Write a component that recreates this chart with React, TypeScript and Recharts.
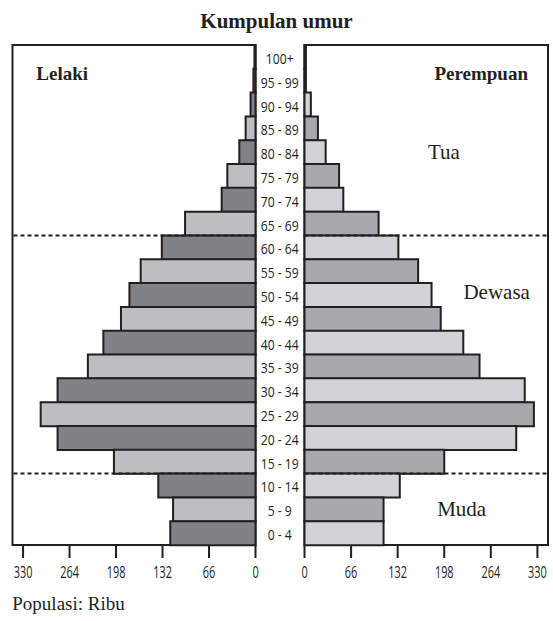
import React from 'react';
import { BarChart, Bar, XAxis, YAxis, Cell, ReferenceLine, ReferenceArea } from 'recharts';

const ages = [
  '100+', '95 - 99', '90 - 94', '85 - 89', '80 - 84', '75 - 79', '70 - 74',
  '65 - 69', '60 - 64', '55 - 59', '50 - 54', '45 - 49', '40 - 44', '35 - 39',
  '30 - 34', '25 - 29', '20 - 24', '15 - 19', '10 - 14', '5 - 9', '0 - 4',
];
const male = [1.5, 3, 7, 14, 23, 40, 48, 100, 133, 163, 179, 191, 216, 238, 281, 305, 281, 201, 138, 117, 121];
const female = [2, 2, 9, 19, 30, 49, 55, 105, 133, 161, 180, 193, 225, 248, 312, 325, 300, 198, 135, 112, 112];
const xTicks = [0, 66, 132, 198, 264, 330];
const xDomain: [number, number] = [0, 345];

const data = ages.map((age, i) => ({ age, male: male[i], female: female[i] }));

const INK = '#231f20';
const MALE_DARK = '#808285';
const MALE_LIGHT = '#bcbec0';
const FEMALE_LIGHT = '#d1d3d4';
const FEMALE_MID = '#a7a9ac';
const SERIF = '"Liberation Serif", "Times New Roman", serif';
const SANS = '"Open Sans", "Liberation Sans", sans-serif';

const XTick = (props: any) => {
  const { x, y, payload } = props;
  return (
    <text
      transform={`translate(${x},${y}) scale(0.64,1)`}
      x={0}
      y={0}
      dy="0.71em"
      textAnchor="middle"
      fill={INK}
      fontSize={17}
      fontFamily={SANS}
    >
      {payload.value}
    </text>
  );
};

const AgeTick = (props: any) => {
  const { x, y, payload } = props;
  return (
    <text
      transform={`translate(${x + 24.25},${y}) scale(0.84,1)`}
      x={0}
      y={0}
      dy={7}
      textAnchor="middle"
      fill={INK}
      fontSize={14.5}
      fontFamily={SANS}
    >
      {payload.value}
    </text>
  );
};

const dashProps = { stroke: INK, strokeWidth: 2, strokeDasharray: '4 3' };

export default function App() {
  return (
    <div style={{ position: 'absolute', left: 0, top: 0, width: 553, height: 621, background: '#fff' }}>
      <div style={{ position: 'absolute', left: 0, top: 0 }}>
        <BarChart
          width={304}
          height={621}
          data={data}
          layout="vertical"
          margin={{ top: 45, right: 0, bottom: 0, left: 12.5 }}
          barCategoryGap={0}
        >
          <XAxis
            type="number"
            domain={xDomain}
            ticks={xTicks}
            interval={0}
            reversed
            axisLine={false}
            tickLine={{ stroke: INK, strokeWidth: 2 }}
            tickSize={13}
            tickMargin={8}
            height={76}
            tick={<XTick />}
          />
          <YAxis
            type="category"
            dataKey="age"
            orientation="right"
            width={48.5}
            axisLine={false}
            tickLine={false}
            tickSize={0}
            tickMargin={0}
            interval={0}
            tick={<AgeTick />}
          />
          <Bar dataKey="male" isAnimationActive={false} stroke={INK} strokeWidth={2}>
            {data.map((d, i) => (
              <Cell key={d.age} fill={i % 2 === 0 ? MALE_DARK : MALE_LIGHT} />
            ))}
          </Bar>
          <ReferenceLine y="60 - 64" position="start" {...dashProps} />
          <ReferenceLine y="10 - 14" position="start" {...dashProps} />
          <ReferenceArea x1={0} x2={345} fill="none" stroke={INK} strokeWidth={2} />
        </BarChart>
      </div>
      <div style={{ position: 'absolute', left: 280, top: 0 }}>
        <BarChart
          width={273}
          height={621}
          data={data}
          layout="vertical"
          margin={{ top: 45, right: 5, bottom: 0, left: 24.5 }}
          barCategoryGap={0}
        >
          <XAxis
            type="number"
            domain={xDomain}
            ticks={xTicks}
            interval={0}
            axisLine={false}
            tickLine={{ stroke: INK, strokeWidth: 2 }}
            tickSize={13}
            tickMargin={8}
            height={76}
            tick={<XTick />}
          />
          <YAxis type="category" dataKey="age" hide />
          <Bar dataKey="female" isAnimationActive={false} stroke={INK} strokeWidth={2}>
            {data.map((d, i) => (
              <Cell key={d.age} fill={i % 2 === 0 ? FEMALE_LIGHT : FEMALE_MID} />
            ))}
          </Bar>
          <ReferenceLine y="60 - 64" position="start" {...dashProps} />
          <ReferenceLine y="10 - 14" position="start" {...dashProps} />
          <ReferenceArea x1={0} x2={345} fill="none" stroke={INK} strokeWidth={2} />
        </BarChart>
      </div>
      <svg
        width={553}
        height={621}
        style={{ position: 'absolute', left: 0, top: 0, pointerEvents: 'none' }}
      >
        <text x={276.5} y={28} textAnchor="middle" fontFamily={SERIF} fontWeight="bold" fontSize={21} fill={INK}>
          Kumpulan umur
        </text>
        <text x={36.3} y={80.4} textAnchor="start" fontFamily={SERIF} fontWeight="bold" fontSize={19} fill={INK}>
          Lelaki
        </text>
        <text x={528} y={80.4} textAnchor="end" fontFamily={SERIF} fontWeight="bold" fontSize={19} fill={INK}>
          Perempuan
        </text>
        <text x={444} y={159} textAnchor="middle" fontFamily={SERIF} fontSize={21} fill={INK}>
          Tua
        </text>
        <text x={496.7} y={299} textAnchor="middle" fontFamily={SERIF} fontSize={21} fill={INK}>
          Dewasa
        </text>
        <text x={461.7} y={516} textAnchor="middle" fontFamily={SERIF} fontSize={21} fill={INK}>
          Muda
        </text>
        <text x={12.3} y={610} textAnchor="start" fontFamily={SERIF} fontSize={19} fill={INK}>
          Populasi: Ribu
        </text>
      </svg>
    </div>
  );
}
